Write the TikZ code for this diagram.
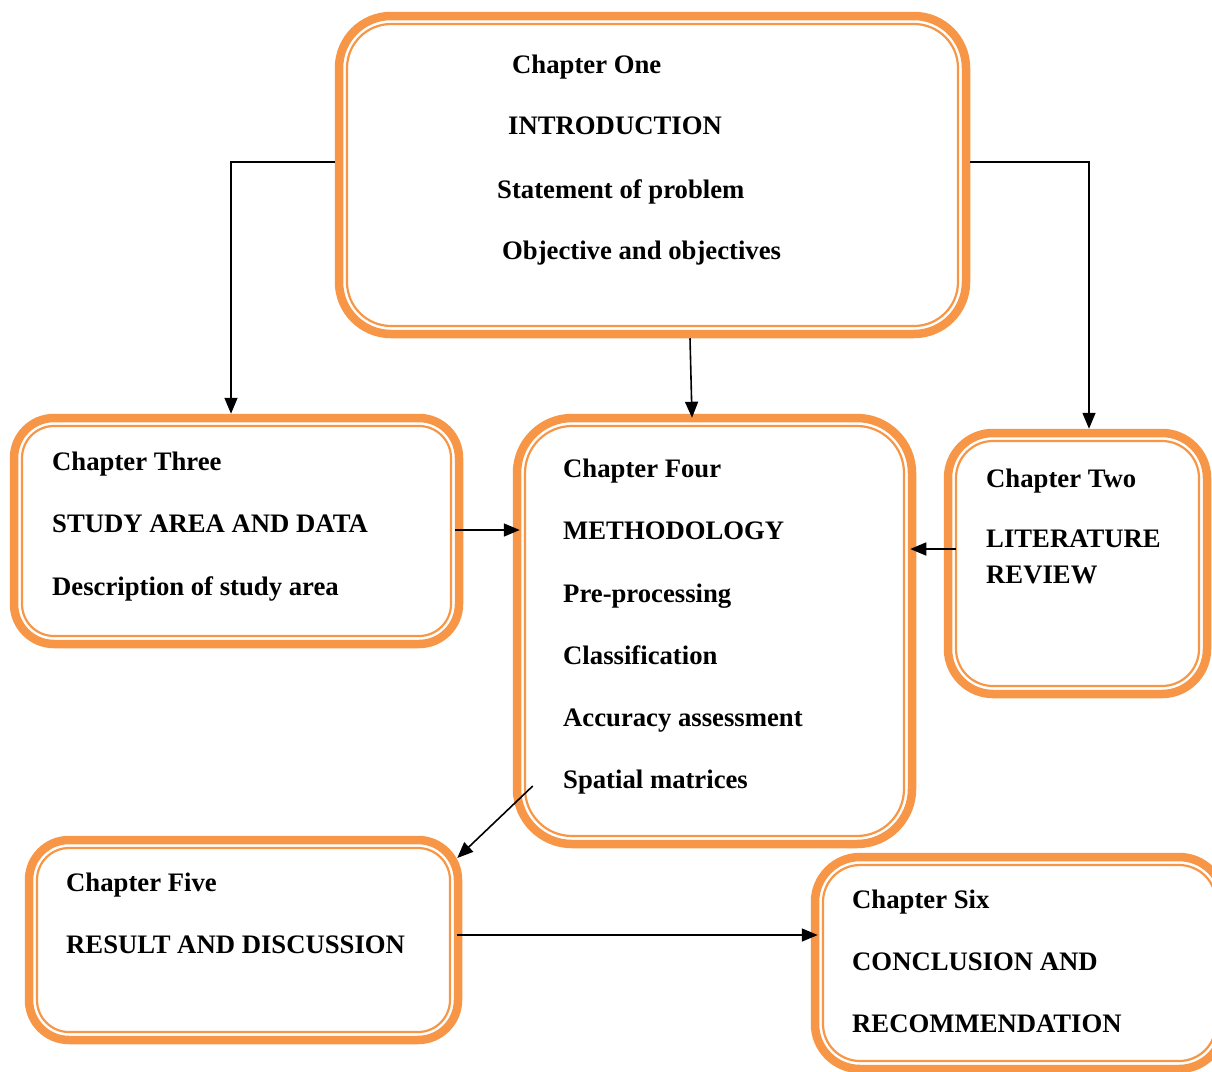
\documentclass[tikz,border=0pt]{standalone}
\usepackage{fontspec}
\setmainfont{Liberation Serif}
\usetikzlibrary{arrows.meta}
\definecolor{boxorange}{HTML}{F79646}
\tikzset{
  outerbox/.style={draw=boxorange, line width=8.5pt, inner sep=0pt, outer sep=4.25pt, rounded corners=#1},
  innerbox/.style={draw=boxorange, line width=2.2pt, inner sep=0pt, rounded corners=#1},
  lbl/.style={anchor=base west, inner sep=0pt, font=\bfseries\fontsize{26.7}{32}\selectfont},
  arr/.style={draw=black, line width=1.6pt, -{Triangle[length=16pt,width=13pt]}}
}
\begin{document}
\begin{tikzpicture}[x=1pt,y=-1pt]
\useasboundingbox (0,0) rectangle (1212,1071);
\clip (0,0) rectangle (1212,1071);
% boxes
\node[outerbox=52pt, minimum width=627pt, minimum height=318pt] (b1) at (652.5,175) {};
\node[innerbox=44pt, minimum width=611pt, minimum height=302pt] (b1i) at (b1.center) {};
\node[outerbox=40pt, minimum width=445pt, minimum height=226pt] (b3) at (236.5,531) {};
\node[innerbox=32pt, minimum width=429pt, minimum height=210pt] (b3i) at (b3.center) {};
\node[outerbox=55pt, minimum width=395pt, minimum height=426pt] (b4) at (714.5,631) {};
\node[innerbox=47pt, minimum width=379pt, minimum height=410pt] (b4i) at (b4.center) {};
\node[outerbox=45pt, minimum width=259pt, minimum height=261pt] (b2) at (1077.5,563.5) {};
\node[innerbox=37pt, minimum width=243pt, minimum height=245pt] (b2i) at (b2.center) {};
\node[outerbox=40pt, minimum width=429pt, minimum height=200pt] (b5) at (243.5,940) {};
\node[innerbox=32pt, minimum width=413pt, minimum height=184pt] (b5i) at (b5.center) {};
\node[outerbox=45pt, minimum width=409pt, minimum height=212pt] (b6) at (1019.5,963) {};
\node[innerbox=37pt, minimum width=393pt, minimum height=196pt] (b6i) at (b6.center) {};
% texts
\node[lbl] (t1a) at (512,73) {Chapter One};
\node[lbl] (t1b) at (508,134) {INTRODUCTION};
\node[lbl] (t1c) at (497,198) {Statement of problem};
\node[lbl] (t1d) at (502,259) {Objective and objectives};
\node[lbl] (t3a) at (52,470) {Chapter Three};
\node[lbl] (t3b) at (52,532) {STUDY AREA AND DATA};
\node[lbl] (t3c) at (52,595) {Description of study area};
\node[lbl] (t4a) at (563,477) {Chapter Four};
\node[lbl] (t4b) at (563,539) {METHODOLOGY};
\node[lbl] (t4c) at (563,602) {Pre-processing};
\node[lbl] (t4d) at (563,664) {Classification};
\node[lbl] (t4e) at (563,726) {Accuracy assessment};
\node[lbl] (t4f) at (563,788) {Spatial matrices};
\node[lbl] (t2a) at (986,487) {Chapter Two};
\node[lbl] (t2b) at (986,547) {LITERATURE};
\node[lbl] (t2c) at (986,583) {REVIEW};
\node[lbl] (t5a) at (66,891) {Chapter Five};
\node[lbl] (t5b) at (66,953) {RESULT AND DISCUSSION};
\node[lbl] (t6a) at (852,908) {Chapter Six};
\node[lbl] (t6b) at (852,970) {CONCLUSION AND};
\node[lbl] (t6c) at (852,1032) {RECOMMENDATION};
% connectors
\draw[arr] ([yshift=13pt]b1.west) -| ([xshift=-5.5pt]b3.north);
\draw[arr] ([yshift=13pt]b1.east) -| ([xshift=11.5pt]b2.north);
\draw[arr] ([xshift=37.5pt]b1.south) -- ([xshift=-22.5pt,yshift=-4pt]b4.north);
\draw[arr] ([xshift=-8pt,yshift=1pt]b3.east) -- ([xshift=7pt,yshift=101pt]b4.west);
\draw[arr] ([xshift=12pt,yshift=14.5pt]b2.west) -- ([xshift=-6pt,yshift=82pt]b4.east);
\draw[arr] ([xshift=20pt,yshift=-155pt]b4.west) -- ([xshift=-5pt,yshift=82pt]b5.east);
\draw[arr] ([xshift=-5pt,yshift=5pt]b5.east) -- ([xshift=7pt,yshift=28pt]b6.west);
\end{tikzpicture}
\end{document}
